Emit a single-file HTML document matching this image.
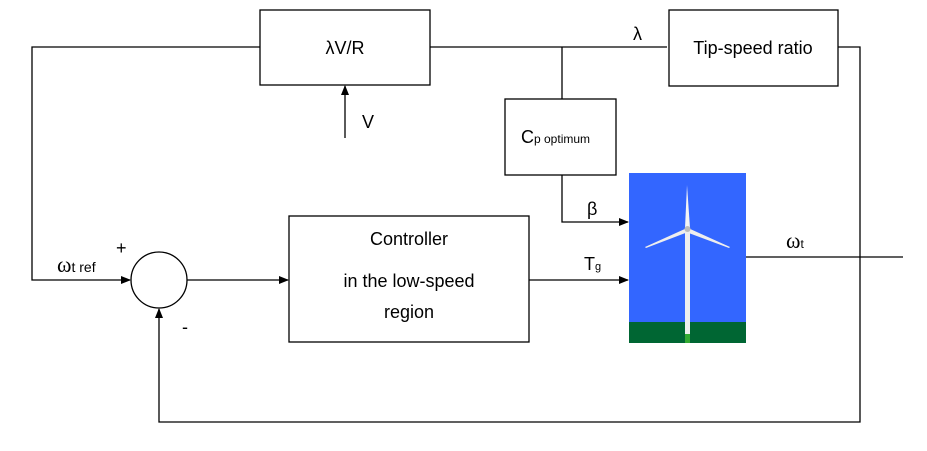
<!DOCTYPE html>
<html><head><style>
html,body{margin:0;padding:0;background:#fff;}
svg{display:block;font-family:"Liberation Sans",sans-serif;}
</style></head><body>
<svg width="927" height="451" viewBox="0 0 927 451" xmlns="http://www.w3.org/2000/svg">
<defs><marker id="a" markerWidth="10" markerHeight="8" refX="9" refY="4" orient="auto" markerUnits="userSpaceOnUse"><path d="M0,0 L10,4 L0,8 z" fill="#000"/></marker></defs>
<g fill="none" stroke="#000" stroke-width="1.3">
<rect x="260" y="10" width="170" height="75" fill="#fff"/>
<rect x="669" y="10" width="169" height="76" fill="#fff"/>
<rect x="505" y="99" width="111" height="76" fill="#fff"/>
<rect x="289" y="216" width="240" height="126" fill="#fff"/>
<circle cx="159" cy="280" r="28" fill="#fff"/>
<polyline points="260,47 32,47 32,280 130,280" marker-end="url(#a)"/>
<line x1="430" y1="47" x2="667" y2="47"/>
<line x1="562" y1="47" x2="562" y2="99"/>
<polyline points="562,175 562,222 628,222" marker-end="url(#a)"/>
<line x1="529" y1="280" x2="628" y2="280" marker-end="url(#a)"/>
<line x1="187" y1="280" x2="288" y2="280" marker-end="url(#a)"/>
<line x1="345" y1="138" x2="345" y2="86" marker-end="url(#a)"/>
<polyline points="838,47 860,47 860,422 159,422 159,309" marker-end="url(#a)"/>
<line x1="746" y1="257" x2="903" y2="257"/>
</g>
<rect x="629" y="173" width="117" height="149" fill="#3366ff"/>
<rect x="629" y="322" width="117" height="21" fill="#006633"/>
<rect x="685" y="322" width="5" height="21" fill="#33aa33"/>
<rect x="685" y="228" width="5" height="106" fill="#eeeeee"/>
<path d="M687,185 L685,228 L690,228 Z" fill="#f4f4f4"/>
<path d="M687,228 L645,247 L646,248 L688,232 Z" fill="#eee"/>
<path d="M688,228 L730,247 L729,248 L686,232 Z" fill="#eee"/>
<circle cx="687.5" cy="229" r="3" fill="#bbb"/>
<g font-size="18" fill="#000">
<text x="345" y="54" text-anchor="middle">λV/R</text>
<text x="753" y="54" text-anchor="middle">Tip-speed ratio</text>
<text x="362" y="128">V</text>
<text x="633" y="40">λ</text>
<text x="521" y="143">C<tspan font-size="12">p optimum</tspan></text>
<text x="409" y="245" text-anchor="middle">Controller</text>
<text x="409" y="287" text-anchor="middle">in the low-speed</text>
<text x="409" y="318" text-anchor="middle">region</text>
<text x="587" y="215">β</text>
<text x="584" y="270">T<tspan font-size="11">g</tspan></text>
<text x="786" y="248" font-size="22" font-family="Liberation Serif,serif">ω<tspan font-size="12" font-family="Liberation Sans,sans-serif">t</tspan></text>
<text x="57" y="272" font-size="22" font-family="Liberation Serif,serif">ω<tspan font-size="14" font-family="Liberation Sans,sans-serif">t ref</tspan></text>
<text x="116" y="254">+</text>
<text x="182" y="333">-</text>
</g>
</svg>
</body></html>
